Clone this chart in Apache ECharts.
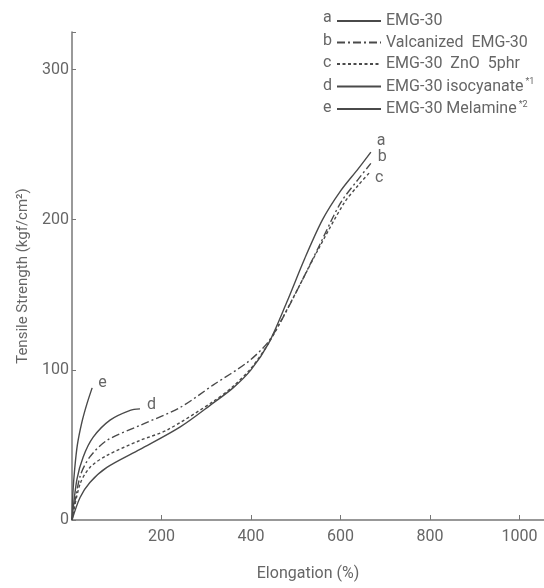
<!DOCTYPE html>
<html>
<head>
<meta charset="utf-8">
<title>EMG-30 tensile</title>
<script src="https://cdn.jsdelivr.net/npm/echarts@6.0.0/dist/echarts.min.js"></script>
<style>
    html, body { margin: 0; padding: 0; background: #fff; }
    #chart { width: 544px; height: 588px; }
</style>
</head>
<body>
<div id="chart"></div>
<script>
//---数据定义区----------------------------------
// [elongation %, tensile strength kgf/cm2]
var curveA = [[0, 0], [18, 15], [40, 25], [78, 35], [152, 47], [242, 62], [316, 78], [360, 88], [400, 100],
    [440, 118], [480, 145], [520, 174], [560, 200], [600, 219], [640, 234], [668, 245]];
var curveB = [[0, 0], [18, 29], [40, 42], [78, 53], [152, 63], [242, 75], [316, 90], [392, 105], [437, 118],
    [470, 134], [510, 157], [550, 181], [600, 211], [640, 227], [668, 237.5]];
var curveC = [[0, 0], [18, 24], [40, 35], [78, 43], [152, 53], [213, 60], [316, 79], [360, 89], [400, 101],
    [440, 118], [475, 137], [510, 157], [550, 180], [608, 211], [640, 223], [664, 231]];
var curveD = [[0, 0], [11, 27], [25, 42], [47, 55], [85, 66.5], [130, 73], [152, 74]];
var curveE = [[0, 0], [2, 18], [6, 34], [12, 50], [22, 65], [33, 77], [45, 88]];

var letters = ['a', 'b', 'c', 'd', 'e'];
var seriesNames = ['EMG-30', 'Valcanized  EMG-30', 'EMG-30  ZnO  5phr', 'EMG-30 isocyanate', 'EMG-30 Melamine'];
var footnotes = ['', '', '', '*1', '*2'];
var xTicks = [0, 200, 400, 600, 800, 1000];
var yTicks = [0, 100, 200, 300];
//----------------------------------------------

//---常量定义区----------------------------------
var FONT = 'Roboto';
var INK = '#4a4a4a';
var TEXT = '#666';
var LEGEND_TOP = 8;
var LEGEND_PITCH = 22.5;
//----------------------------------------------

function init() {
    var _chart = echarts.init(document.getElementById('chart'), null, { renderer: 'canvas' });
    _chart.setOption(makeOption());
}

var makeSeries = function (idx, data, dash, labelOffset) {
    return {
        type: 'line',
        name: seriesNames[idx],
        data: data,
        smooth: 0.3,
        symbol: 'none',
        silent: true,
        animation: false,
        lineStyle: { color: INK, width: 1.4, type: dash },
        endLabel: {
            show: true,
            formatter: letters[idx],
            color: TEXT,
            fontFamily: FONT,
            fontSize: 16,
            distance: 2,
            offset: labelOffset
        }
    };
};

var makeOption = function () {
    // 图例前的字母
    var legendLetters = letters.map(function (l, i) {
        return {
            type: 'text',
            left: 323,
            top: LEGEND_TOP + 2 + i * LEGEND_PITCH,
            style: { text: l, fill: TEXT, font: '16px ' + FONT }
        };
    });
    return {
        backgroundColor: '#fff',
        animation: false,
        grid: { left: 72, right: 0, top: 32, bottom: 68, outerBoundsMode: 'none' },
        legend: {
            orient: 'vertical',
            left: 331,
            top: LEGEND_TOP,
            itemWidth: 44,
            itemHeight: 17,
            itemGap: 5.5,
            itemStyle: { opacity: 0 },
            selectedMode: false,
            formatter: function (name) {
                var i = seriesNames.indexOf(name);
                return footnotes[i] ? '{t|' + name + '}{s|' + footnotes[i] + '}' : '{t|' + name + '}';
            },
            textStyle: {
                color: TEXT,
                fontFamily: FONT,
                fontSize: 16,
                rich: {
                    t: { fontFamily: FONT, fontSize: 16, color: TEXT },
                    s: { fontFamily: FONT, fontSize: 9, color: TEXT, padding: [0, 0, 9, 2] }
                }
            },
            data: seriesNames
        },
        graphic: legendLetters,
        xAxis: {
            type: 'value',
            min: 0,
            max: 1055,
            interval: 200,
            name: 'Elongation (%)',
            nameLocation: 'middle',
            nameGap: 46,
            nameTextStyle: { color: TEXT, fontFamily: FONT, fontSize: 16 },
            splitLine: { show: false },
            axisLine: { lineStyle: { color: '#777', width: 1.5 } },
            axisTick: { inside: true, length: 5, lineStyle: { color: '#777' } },
            axisLabel: {
                color: TEXT,
                fontFamily: FONT,
                fontSize: 16,
                margin: 9,
                formatter: function (v) { return (v > 0 && xTicks.indexOf(v) >= 0) ? String(v) : ''; }
            }
        },
        yAxis: {
            type: 'value',
            min: 0,
            max: 325,
            interval: 100,
            name: 'Tensile Strength (kgf/cm\u00b2)',
            nameLocation: 'middle',
            nameGap: 40,
            nameTextStyle: { color: TEXT, fontFamily: FONT, fontSize: 15 },
            splitLine: { show: false },
            axisLine: { show: true, lineStyle: { color: '#777', width: 1.5 } },
            axisTick: { show: true, inside: true, length: 4, lineStyle: { color: '#777' } },
            axisLabel: {
                color: TEXT,
                fontFamily: FONT,
                fontSize: 16,
                margin: 3,
                formatter: function (v) { return yTicks.indexOf(v) >= 0 ? String(v) : ''; }
            }
        },
        series: [
            makeSeries(0, curveA, 'solid', [4, -11]),
            makeSeries(1, curveB, [8, 3, 2, 3], [5, -6]),
            makeSeries(2, curveC, [3, 2.5], [4, 5]),
            makeSeries(3, curveD, 'solid', [5, -4]),
            makeSeries(4, curveE, 'solid', [4, -5])
        ]
    };
};

init();
</script>
</body>
</html>
